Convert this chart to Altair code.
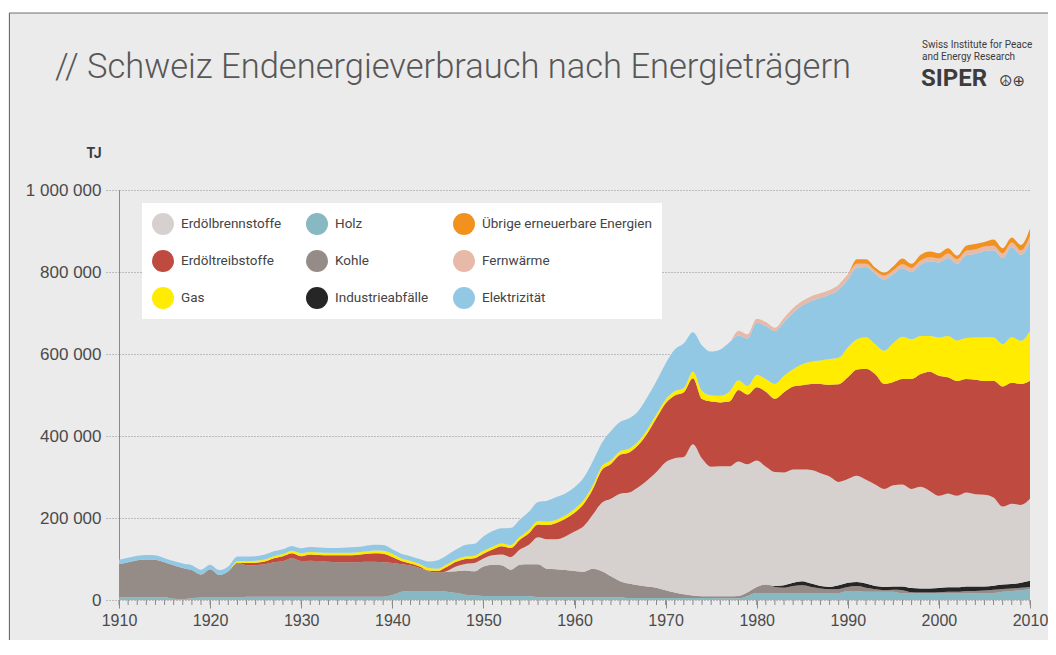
import altair as alt
import pandas as pd

FONT = "Roboto, 'Liberation Sans', sans-serif"
NUMFONT = "'Liberation Sans', Arial, sans-serif"

years = list(range(1910, 2011))

# values in 1000 TJ, 1910 ... 2010
holz = ([7] * 6 + [3, 2, 4] + [6] * 5 + [8] * 16 +
        [12, 20, 22, 22, 22, 22, 20, 17, 13, 11] +
        [10] * 6 + [7] * 10 + [5] * 10 + [4, 4, 4] + [10] +
        [17] * 10 + [22, 22] + [20] * 4 + [16] * 8 + [17, 17, 17] + [20, 22, 24, 26])

kohle = [80, 85, 90, 92, 91, 85, 82, 76, 69, 56,
         69, 55, 64, 84, 77, 77, 79, 84, 87, 94,
         87, 88, 87, 85, 84, 84, 84, 85, 85, 84,
         78, 67, 62, 56, 48, 45, 49, 53, 59, 59,
         72, 76, 75, 64, 76, 77, 80, 69, 68, 66,
         64, 62, 69, 63, 51, 39, 35, 31, 28, 25,
         19, 13, 9, 6, 4, 4, 5, 5, 6, 9,
         15, 21, 15, 13, 17, 19, 15, 11, 9, 10,
         10, 12, 10, 6, 4, 5, 8, 3, 2, 2,
         3, 4, 4, 6, 5, 6, 8, 7, 6, 6, 6]

industrieabfaelle = ([0] * 72 +
                     [2, 6, 8, 10, 8, 6, 6, 9,
                      10, 10, 10, 8, 8, 8, 9, 10, 10, 10,
                      10, 11, 11, 11, 11, 10, 10, 11, 11, 12, 15])

erdoelbrennstoffe = ([0] * 36 + [2, 12, 16, 20] +
                     [19, 23, 26, 31, 37, 48, 66, 72, 73, 82,
                      96, 111, 132, 167, 189, 213, 222, 239, 259, 282,
                      312, 328, 335, 369, 336, 316, 317, 317, 328, 312,
                      308, 287, 278, 275, 276, 272, 277, 275, 269, 252,
                      253, 259, 253, 248, 239, 247, 249, 242, 248, 238,
                      225, 229, 223, 229, 225, 224, 215, 190, 196, 190, 200])

erdoeltreibstoffe = ([0] * 13 + [1, 5, 6, 7, 10, 12, 12] +
                     [12, 15, 15, 16, 17, 17, 18, 19, 21, 21,
                      15, 8, 5, 4, 2, 4, 10, 11, 12, 12,
                      12, 14, 20, 22, 24, 28, 31, 35, 40, 43,
                      46, 54, 62, 80, 85, 95, 98, 103, 115, 132,
                      144, 153, 158, 161, 145, 159, 156, 158, 174, 170,
                      179, 183, 179, 196, 203, 206, 210, 218, 224, 238,
                      248, 259, 271, 269, 256, 252, 257, 268, 275, 291,
                      293, 283, 280, 277, 279, 277, 285, 293, 295, 295, 288])

gas = ([0] * 13 + [4, 5, 5, 5, 5, 5, 6] +
       [7, 6, 6, 6, 6, 6, 6, 6, 7, 7,
        8, 6, 6, 6, 6, 5, 6, 6, 6, 6,
        7, 7, 7, 7, 7, 8, 8, 8, 8, 8,
        9, 9, 9, 9, 9, 9, 9, 9, 9, 9,
        9, 10, 10, 16, 20, 15, 16, 24, 24, 21,
        30, 31, 36, 40, 42, 51, 54, 57, 63, 65,
        73, 74, 77, 73, 81, 95, 103, 97, 93, 87,
        93, 101, 99, 100, 103, 107, 105, 103, 111, 105, 121])

elektrizitaet = [11, 11, 11, 11, 11, 10, 10, 11, 12, 12,
                 11, 12, 12, 11, 11, 11, 12, 12, 12, 12,
                 12, 12, 12, 12, 12, 13, 13, 14, 14, 14,
                 11, 12, 12, 12, 16, 21, 22, 24, 28, 29,
                 35, 38, 37, 42, 42, 44, 47, 51, 55, 54,
                 53, 55, 59, 57, 71, 71, 74, 74, 79, 81,
                 88, 102, 109, 96, 111, 107, 113, 120, 109, 116,
                 127, 129, 129, 131, 137, 143, 148, 153, 157, 166,
                 166, 174, 171, 172, 174, 168, 167, 164, 174, 182,
                 183, 190, 187, 202, 204, 210, 213, 210, 220, 210, 218]

fernwaerme = ([0] * 68 +
              [12, 10, 10, 10, 8, 10, 12, 11, 12, 11, 11, 12,
               12, 10, 8, 7, 9, 9, 10, 10, 10, 10,
               10, 11, 11, 11, 11, 11, 11, 11, 11, 11, 14])

uebrige = ([0] * 81 +
           [11, 11, 8, 7, 10, 14, 10, 14, 14,
            13, 13, 9, 12, 13, 11, 15, 13, 12, 13, 18])

# stacking order, bottom to top
carriers = ["Holz", "Kohle", "Industrieabfälle", "Erdölbrennstoffe",
            "Erdöltreibstoffe", "Gas", "Elektrizität", "Fernwärme",
            "Übrige erneuerbare Energien"]
series = [holz, kohle, industrieabfaelle, erdoelbrennstoffe,
          erdoeltreibstoffe, gas, elektrizitaet, fernwaerme, uebrige]

# legend, column by column
legend_order = ["Erdölbrennstoffe", "Erdöltreibstoffe", "Gas",
                "Holz", "Kohle", "Industrieabfälle",
                "Übrige erneuerbare Energien", "Fernwärme", "Elektrizität"]
colors = {
    "Erdölbrennstoffe": "#d6d0ce",
    "Holz": "#88b8c2",
    "Übrige erneuerbare Energien": "#f2911e",
    "Erdöltreibstoffe": "#bf4a40",
    "Kohle": "#958c87",
    "Fernwärme": "#e7b9a8",
    "Gas": "#ffec00",
    "Industrieabfälle": "#262626",
    "Elektrizität": "#93c8e4",
}

y_ticks = [0, 200000, 400000, 600000, 800000, 1000000]
x_ticks = list(range(1910, 2011, 10))

rows = []
for rank, (name, vals) in enumerate(zip(carriers, series)):
    for yr, v in zip(years, vals):
        rows.append({"Jahr": yr, "Energieträger": name, "TJ": v * 1000, "rang": rank})
df = pd.DataFrame(rows)

x_enc = alt.X("Jahr:Q",
              scale=alt.Scale(domain=[1910, 2010], nice=False, zero=False),
              axis=alt.Axis(values=x_ticks, format="d", title=None, grid=False,
                            domain=False, tickSize=8, tickColor="#8a8a8a",
                            labelFlush=False, labelFont=NUMFONT, labelFontSize=16,
                            labelColor="#4a4a4a", labelPadding=4))

areas = alt.Chart(df).mark_area(interpolate="monotone", opacity=1).encode(
    x=x_enc,
    y=alt.Y("TJ:Q", stack="zero",
            scale=alt.Scale(domain=[0, 1000000], nice=False),
            axis=alt.Axis(values=y_ticks, title=None, grid=True,
                          gridDash=[1, 2], gridColor="#8c8c8c", gridWidth=1,
                          tickSize=14, tickDash=[1, 2], tickColor="#8c8c8c",
                          domainColor="#8a8a8a",
                          labelFont=NUMFONT, labelFontSize=17,
                          labelColor="#4a4a4a", labelPadding=4,
                          labelExpr="replace(replace(format(datum.value, ','), ',', ' '), ',', ' ')")),
    color=alt.Color("Energieträger:N",
                    scale=alt.Scale(domain=legend_order,
                                    range=[colors[c] for c in legend_order]),
                    legend=alt.Legend(orient="none", legendX=23, legendY=13,
                                      columns=3, title=None, fillColor="white",
                                      padding=10, symbolType="circle",
                                      symbolSize=484, symbolStrokeWidth=0,
                                      symbolOpacity=1, labelFont=FONT,
                                      labelFontSize=13.5, labelColor="#444444",
                                      labelOffset=7, labelLimit=300,
                                      rowPadding=15, columnPadding=24)),
    order=alt.Order("rang:Q", sort="ascending"),
)

minor = alt.Chart(pd.DataFrame({"Jahr": years})).mark_rule(
    color="#8a8a8a", strokeWidth=1
).encode(x=x_enc, y=alt.value(410), y2=alt.value(415))

one = pd.DataFrame({"k": [0]})


def label(text, x, y, size, color="#555555", weight="normal", font=FONT, align="left"):
    return alt.Chart(one).mark_text(
        align=align, baseline="middle", font=font, fontSize=size,
        fontWeight=weight, color=color, x=x, y=y
    ).encode(text=alt.value(text))


title = label("// Schweiz Endenergieverbrauch nach Energieträgern", -64, -122, 34.5,
              color="#575757", weight=300)
unit = label("TJ", -25, -36, 14, color="#3c3c3c", weight="bold", align="center")
logo1 = label("Swiss Institute for Peace", 803, -145, 10, color="#3c3c3c")
logo2 = label("and Energy Research", 803, -133, 10, color="#3c3c3c")
logo3 = label("SIPER", 802, -111, 24, color="#3c3c3c", weight="bold")
logo4 = label("☮⊕", 880, -109, 15, color="#3c3c3c",
              font="'DejaVu Sans', sans-serif")

top_white = alt.Chart(one).mark_rect(color="white").encode(
    x=alt.value(-111), x2=alt.value(940), y=alt.value(-182), y2=alt.value(-177))
border_top = alt.Chart(one).mark_rule(color="#6e6e6e", strokeWidth=1).encode(
    x=alt.value(-110), x2=alt.value(940), y=alt.value(-177))
border_left = alt.Chart(one).mark_rule(color="#6e6e6e", strokeWidth=1).encode(
    x=alt.value(-109.5), y=alt.value(-177), y2=alt.value(460))

chart = alt.layer(
    areas, minor, title, unit, logo1, logo2, logo3, logo4,
    top_white, border_top, border_left
).properties(
    width=911, height=410,
    autosize=alt.AutoSizeParams(type="none"),
    padding={"left": 111, "top": 182, "right": 18, "bottom": 40},
    background="#ebebeb",
).configure_view(stroke=None)

chart.save("out.html", embed_options={"renderer": "svg", "actions": False})
